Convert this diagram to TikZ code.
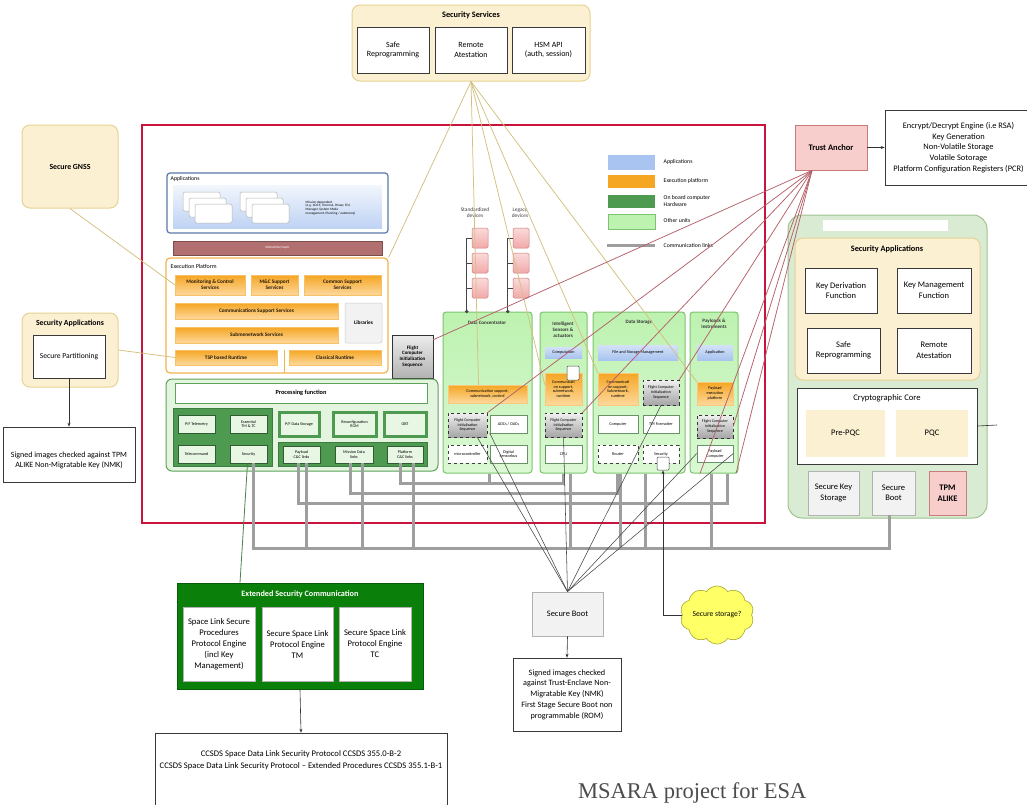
\documentclass[tikz,border=0pt]{standalone}
\usepackage{fontspec}
\setmainfont{Carlito}
\newfontfamily\serifx{Liberation Serif}
\usetikzlibrary{shapes.symbols,arrows.meta,calc}
\definecolor{frameRed}{HTML}{C8143C}
\definecolor{ssFill}{HTML}{FCF0D2}
\definecolor{ssDraw}{HTML}{E6D293}
\definecolor{tanLine}{HTML}{D4C080}
\definecolor{redLine}{HTML}{B5606A}
\definecolor{appBlue}{HTML}{A9C4F0}
\definecolor{appBorder}{HTML}{5A78A8}
\definecolor{orTop}{HTML}{F5A623}
\definecolor{orBot}{HTML}{FDD89C}
\definecolor{epBorder}{HTML}{F2B34B}
\definecolor{ilayer}{HTML}{B16F6F}
\definecolor{dkGreen}{HTML}{4E9A51}
\definecolor{ltGreen}{HTML}{BDF2B0}
\definecolor{unitBorder}{HTML}{7CC46C}
\definecolor{pfFill}{HTML}{E4F5DF}
\definecolor{pfBorder}{HTML}{5EA25A}
\definecolor{pfLight}{HTML}{E8F6E4}
\definecolor{commGray}{HTML}{9E9E9E}
\definecolor{rgFill}{HTML}{D9EBD3}
\definecolor{rgDraw}{HTML}{9CC48F}
\definecolor{taFill}{HTML}{F8CECC}
\definecolor{taDraw}{HTML}{C97B79}
\definecolor{escGreen}{HTML}{0A800A}
\definecolor{cloudY}{HTML}{FFFF66}
\definecolor{cloudD}{HTML}{A6A62E}
\definecolor{lgGray}{HTML}{F2F2F2}
\definecolor{pinkTop}{HTML}{FADADA}
\definecolor{pinkBot}{HTML}{F2A9A9}
\newcommand\fz[2]{\fontsize{#1}{#2}\selectfont}
\newcommand\bx[7]{\node[#2, minimum width={(#5)-(#3)}, minimum height={(#6)-(#4)}] (#1) at ({((#3)+(#5))/2},{((#4)+(#6))/2}) {#7};}
\tikzset{
  every node/.style={inner sep=0.5pt, align=center},
  ybox/.style={fill=ssFill, draw=ssDraw, line width=1pt, rounded corners=8pt},
  wbox/.style={fill=white, draw=gray!45!black, line width=0.9pt, font=\fz{8}{9.5}},
  wbox2/.style={fill=white, draw=gray!45!black, line width=0.8pt, font=\fz{8.5}{10.5}},
  wbox3/.style={fill=white, draw=gray!60, line width=0.6pt, font=\fz{8.6}{11}},
  tabox/.style={fill=taFill, draw=taDraw, line width=0.8pt},
  lgbox/.style={fill=lgGray, draw=gray!60, line width=0.8pt, font=\fz{8.5}{10.5}},
  yfill/.style={fill=ssFill, draw=none, font=\fz{8.5}{10}},
  unit/.style={top color=ltGreen, bottom color=ltGreen!55!white, draw=unitBorder, line width=1pt, rounded corners=3pt},
  utitle/.style={font=\bfseries\fz{5}{5.8}, text=black!80},
  obox/.style={top color=orTop, bottom color=orBot, draw=orTop!60, line width=0.3pt, font=\fz{4.2}{4.8}},
  obox2/.style={top color=orTop, bottom color=orBot, draw=orTop!70, line width=0.3pt, font=\bfseries\fz{5.3}{6}, text=black!80!brown},
  gbox/.style={top color=gray!12, bottom color=gray!70, draw=gray!40!black, dashed, line width=0.4pt, font=\fz{4}{4.6}},
  gbox2/.style={top color=gray!15, bottom color=gray!60, draw=gray!40!black, line width=0.6pt, font=\bfseries\fz{5}{5.8}},
  bbox/.style={top color=appBlue!50, bottom color=appBlue, draw=none, font=\fz{4.2}{4.8}},
  whbox/.style={fill=white, draw=green!30!black!60, line width=0.5pt, font=\fz{4.2}{4.8}},
  dwbox/.style={fill=white, draw=gray!50!black, dashed, line width=0.5pt, font=\fz{4.2}{4.8}},
  whsq/.style={fill=white, draw=black!70, line width=0.5pt, rounded corners=1pt},
  pfi/.style={fill=pfLight, draw=dkGreen!60!black, line width=0.4pt, font=\fz{4.1}{4.7}},
  pfk/.style={fill=pfLight, draw=dkGreen, line width=3pt, font=\fz{4.1}{4.7}},
  card/.style={fill=white, draw=gray!60, line width=0.5pt, rounded corners=1.5pt},
  pinkbox/.style={top color=pinkTop, bottom color=pinkBot, draw=taDraw, line width=0.5pt, rounded corners=1.5pt},
  lgt/.style={anchor=west, font=\fz{5.8}{6.5}, align=left},
  tanline/.style={draw=tanLine, line width=0.75pt},
  redline/.style={draw=redLine, line width=0.75pt},
  bootline/.style={draw=gray!55!black, line width=0.55pt},
  comm/.style={draw=commGray, line width=3pt},
  brk/.style={draw=gray!55!black, line width=0.8pt},
  arr/.style={draw=black!80, line width=0.6pt, -{Stealth[length=4pt,width=3pt]}},
}
\begin{document}
\begin{tikzpicture}[x=1pt,y=-1pt]
\useasboundingbox (0,0) rectangle (1027,804);
\fill[white] (0,0) rectangle (1027,804);

% ---------- Security Services (top)
\bx{ss}{ybox}{352}{5}{590}{81}{}
\node[font=\bfseries\fz{8.3}{9}] (ssT) at (471,15) {Security Services};
\bx{ssSafe}{wbox}{357}{27}{429}{73}{Safe\\Reprogramming}
\bx{ssRem}{wbox}{435}{27}{507}{73}{Remote\\Atestation}
\bx{ssHsm}{wbox}{512}{27}{585}{73}{HSM API\\(auth, session)}

% ---------- main frame
\bx{frame}{draw=frameRed, line width=1.4pt}{142}{125}{765}{523}{}

% ---------- left side
\bx{gnss}{ybox, font=\bfseries\fz{7.8}{9}}{22}{125}{118}{208}{Secure GNSS}
\bx{secAppL}{ybox}{22}{313}{118}{387}{}
\node[font=\bfseries\fz{7.8}{9}] (secAppLT) at (70,323) {Security Applications};
\bx{secPart}{wbox, font=\fz{7.6}{9}}{33}{335}{105}{378}{Secure Partitioning}
\bx{signedA}{wbox2, font=\fz{8}{10}, line width=0.6pt}{3}{427}{135}{482}{\\[7pt]Signed images checked against TPM\\ALIKE Non-Migratable Key (NMK)}

% ---------- Applications
\bx{app}{draw=appBorder, line width=1.2pt, rounded corners=3pt, fill=white}{167}{173}{388}{233}{}
\node[anchor=west, font=\fz{5.8}{6.5}] (appT) at (170,179) {Applications};
\bx{appIn}{top color=appBlue!15, bottom color=appBlue!75, draw=none}{173}{185}{382}{228}{}
\bx{cardA1}{card}{183}{192}{220}{211}{}
\bx{cardA2}{card}{189}{198}{226}{217}{}
\bx{cardA3}{card}{195}{204}{232}{223}{}
\bx{cardB1}{card}{240}{192}{277}{211}{}
\bx{cardB2}{card}{246}{198}{283}{217}{}
\bx{cardB3}{card}{252}{204}{289}{223}{}
\node[anchor=west, font=\fz{3.4}{3.9}, align=left] (appTxt) at (305,208) {Mission dependent\\(e.g. AOCS, Thermal, Power, FDI,\\Manager, System Mode\\management, Planning / autonomy)};
\bx{il}{fill=ilayer, draw=ilayer!70!black, line width=0.6pt, font=\fz{3.6}{4}, text=white}{173}{241}{382}{255}{Interaction layer}

% ---------- Execution platform
\bx{ep}{draw=epBorder, line width=1.2pt, rounded corners=4pt, fill=white}{166}{258}{388}{373}{}
\node[anchor=west, font=\fz{6}{7}] (epT) at (170,266) {Execution Platform};
\bx{epMC}{obox2}{175}{275}{245}{295}{Monitoring \& Control\\Services}
\bx{epMCS}{obox2}{251}{275}{298}{295}{M\&C Support\\Services}
\bx{epCS}{obox2}{304}{275}{381}{295}{Common Support\\Services}
\bx{epComm}{obox2}{175}{303}{338}{319}{Communications Support Services}
\bx{epSub}{obox2}{175}{327}{338}{343}{Submenetwork Services}
\bx{epLib}{fill=gray!10, draw=gray!40, line width=0.5pt, rounded corners=2pt, font=\bfseries\fz{5.3}{6}}{345}{303}{382}{343}{Libraries}
\bx{epTSP}{obox2}{175}{350}{277}{365}{TSP based Runtime}
\bx{epCR}{obox2}{289}{350}{381}{365}{Classical Runtime}
\coordinate (epDivT) at (284,350);
\coordinate (epDivB) at (284,373);
\draw[draw=epBorder, line width=0.8pt] (epDivT) -- (epDivB);

\bx{fcisA}{gbox2}{392}{335}{433}{378}{Flight\\Computer\\Initialization\\Sequence}

% ---------- Processing function
\bx{pf}{draw=pfBorder, fill=pfFill, rounded corners=6pt, line width=1pt}{166}{379}{438}{471}{}
\bx{pfBar}{fill=white, draw=pfBorder, line width=1pt, font=\bfseries\fz{6.3}{7}}{175}{383}{427}{403}{Processing function}
\bx{pfL}{fill=dkGreen, draw=dkGreen!80!black, line width=0.5pt}{173}{408}{272}{466}{}
\bx{pfTel}{pfi}{178}{415}{215}{433}{P/F Telemetry}
\bx{pfEss}{pfi}{230}{415}{267}{433}{Essential\\TM \& TC}
\bx{pfTc}{pfi}{178}{445}{215}{463}{Telecommand}
\bx{pfSec}{pfi}{230}{445}{267}{463}{Security}
\bx{pfDs}{pfk}{279}{412}{319}{436}{P/F Data Storage}
\bx{pfRc}{pfk}{333}{412}{376}{436}{Reconfiguration\\RGM}
\bx{pfObt}{pfk}{384}{412}{426}{436}{OBT}
\bx{pfR}{fill=dkGreen, draw=dkGreen!80!black, line width=0.5pt}{278}{442}{427}{466}{}
\bx{pfPay}{pfi}{283}{446}{320}{463}{Payload\\C\&C links}
\bx{pfMis}{pfi}{335}{446}{373}{463}{Mission Data\\links}
\bx{pfPlat}{pfi}{387}{446}{423}{463}{Platform\\C\&C links}

% ---------- devices
\node[font=\fz{5.4}{6.2}, text=black!75] (stdT) at (475,213) {Standardized\\devices};
\node[font=\fz{5.4}{6.2}, text=black!75] (legT) at (520,213) {Legacy\\devices};
\bx{sd1}{pinkbox}{472}{228}{488}{248}{}
\bx{sd2}{pinkbox}{472}{253}{488}{273}{}
\bx{sd3}{pinkbox}{472}{278}{488}{298}{}
\bx{ld1}{pinkbox}{513}{228}{529}{248}{}
\bx{ld2}{pinkbox}{513}{253}{529}{273}{}
\bx{ld3}{pinkbox}{513}{278}{529}{298}{}

% ---------- units
\bx{dc}{unit}{443}{312}{532}{473}{}
\node[utitle] (dcT) at (487,323) {Data Concentrator};
\bx{dcComm}{obox}{448}{385}{527}{403}{Communication support,\\subnetwork, control}
\bx{dcFcis}{gbox}{448}{413}{487}{437}{Flight Computer\\Initialization\\Sequence}
\bx{dcAdc}{whbox}{490}{415}{527}{433}{ADCs / DACs}
\bx{dcMc}{dwbox}{448}{445}{487}{463}{microcontroller}
\bx{dcDs}{whbox}{490}{445}{527}{463}{Digital\\Sensorbus}

\bx{is}{unit}{540}{312}{587}{473}{}
\node[utitle] (isT) at (563,330) {Intelligent\\Sensors \&\\actuators};
\bx{isComp}{bbox}{545}{347}{582}{358}{Computation}
\bx{isComm}{obox}{545}{373}{582}{405}{Communicati\\on support,\\subnetwork,\\runtime}
\bx{isSq}{whsq}{567}{366}{579}{380}{}
\bx{isFcis}{gbox}{545}{413}{582}{437}{Flight Computer\\Initialization\\Sequence}
\bx{isCpu}{whbox}{545}{445}{582}{463}{CPU}

\bx{ds}{unit}{593}{312}{685}{473}{}
\node[utitle] (dsT) at (639,322) {Data Storage};
\bx{dsFile}{bbox}{598}{345}{678}{360}{File and Storage Management}
\bx{dsComm}{obox}{598}{373}{638}{405}{Communicati\\on support,\\Subnetwork,\\runtime}
\bx{dsFcis}{gbox}{643}{380}{679}{405}{Flight Computer\\Initialization\\Sequence}
\bx{dsComp}{whbox}{598}{415}{638}{433}{Computer}
\bx{dsTm}{whbox}{643}{415}{679}{433}{TM Formatter}
\bx{dsRouter}{dwbox}{598}{445}{638}{463}{Router}
\bx{dsSec}{dwbox}{643}{445}{679}{463}{Security}
\bx{dsSq}{whsq}{657}{457}{669}{470}{}

\bx{pl}{unit}{690}{312}{738}{473}{}
\node[utitle] (plT) at (714,324) {Payloads \&\\Instruments};
\bx{plApp}{bbox}{697}{345}{733}{360}{Application}
\bx{plExec}{obox}{697}{382}{733}{405}{Payload\\execution\\platform}
\bx{plFcis}{gbox}{697}{415}{733}{438}{Flight Computer\\Initialization\\Sequence}
\bx{plComp}{whbox}{697}{445}{733}{462}{Payload\\Computer}

% ---------- legend
\bx{lgA}{fill=appBlue, draw=none}{608}{155}{655}{170}{}
\node[lgt] (lgAT) at (663,162) {Applications};
\bx{lgE}{fill=orTop, draw=none}{608}{175}{655}{188}{}
\node[lgt] (lgET) at (663,181) {Execution platform};
\bx{lgO}{fill=dkGreen, draw=none}{608}{195}{655}{208}{}
\node[lgt] (lgOT) at (663,201) {On board computer\\Hardware};
\bx{lgU}{fill=ltGreen, draw=unitBorder, line width=1pt}{608}{214}{655}{229}{}
\node[lgt] (lgUT) at (663,221) {Other units};
\coordinate (lgL1) at (607,245);
\coordinate (lgL2) at (655,245);
\draw[comm] (lgL1) -- (lgL2);
\node[lgt] (lgLT) at (663,245) {Communication links};

% ---------- Trust anchor
\bx{ta}{tabox, font=\bfseries\fz{8.5}{10}}{795}{125}{867}{170}{Trust Anchor}
\bx{taInfo}{wbox2, font=\fz{8.4}{10.8}, line width=0.6pt}{885}{110}{1032}{185}{Encrypt/Decrypt Engine (i.e RSA)\\Key Generation\\Non-Volatile Storage\\Volatile Sotorage\\Platform Configuration Registers (PCR)}

% ---------- right green block
\bx{rg}{draw=rgDraw, fill=rgFill, rounded corners=14pt, line width=1pt}{788}{215}{987}{518}{}
\bx{rgBar}{fill=white, draw=none}{823}{220}{948}{231}{}
\bx{rgSA}{ybox}{795}{238}{980}{380}{}
\node[font=\bfseries\fz{8.3}{9.5}] (rgSAT) at (887,249) {Security Applications};
\bx{kdf}{wbox2}{805}{268}{877}{313}{Key Derivation\\Function}
\bx{kmf}{wbox2}{897}{268}{971}{313}{Key Management\\Function}
\bx{rsr}{wbox2}{807}{328}{880}{373}{Safe\\Reprogramming}
\bx{rra}{wbox2}{897}{328}{971}{373}{Remote\\Atestation}
\bx{cc}{wbox2}{797}{388}{977}{464}{}
\node[font=\fz{8.6}{10}] (ccT) at (887,398) {Cryptographic Core};
\bx{prepqc}{yfill}{806}{410}{885}{457}{Pre-PQC}
\bx{pqc}{yfill}{896}{410}{968}{457}{PQC}
\bx{rSKS}{lgbox}{808}{471}{859}{515}{Secure Key\\Storage}
\bx{rSBoot}{lgbox}{872}{471}{915}{515}{Secure\\Boot}
\bx{rTPM}{tabox, font=\bfseries\fz{8.5}{10.5}}{929}{471}{966}{515}{TPM\\ALIKE}
\coordinate (ccEnd) at (997,425);
\draw[draw=gray!40!black, line width=0.6pt] (cc.east) -- (ccEnd);

% ---------- bottom
\bx{esc}{fill=escGreen, draw=escGreen!70!black, line width=0.8pt}{177}{583}{423}{689}{}
\node[font=\bfseries\fz{8.2}{9}, text=white] (escT) at (300,594) {Extended Security Communication};
\bx{esc1}{wbox3}{183}{607}{255}{681}{Space Link Secure\\Procedures\\Protocol Engine\\(incl  Key\\Management)}
\bx{esc2}{wbox3}{262}{607}{333}{681}{Secure Space Link\\Protocol Engine\\TM}
\bx{esc3}{wbox3}{339}{607}{411}{681}{Secure Space Link\\Protocol Engine\\TC}
\bx{ccsds}{wbox2, font=\fz{8.6}{12}, line width=0.6pt}{155}{733}{447}{812}{CCSDS Space Data Link Security Protocol CCSDS 355.0-B-2\\CCSDS Space Data Link Security Protocol -- Extended Procedures CCSDS 355.1-B-1\\[14pt]}

\bx{sboot}{lgbox, font=\fz{8.4}{10}}{532}{592}{603}{636}{Secure Boot}
\bx{signedB}{wbox2, font=\fz{8.2}{10.8}, line width=0.6pt}{513}{658}{621}{731}{Signed images checked\\against Trust-Enclave Non-\\Migratable Key (NMK)\\First Stage Secure Boot non\\programmable (ROM)}
\node[cloud, cloud puffs=10, cloud puff arc=110, aspect=1.4, draw=cloudD, fill=cloudY, line width=0.6pt, minimum width=66pt, minimum height=52pt, inner sep=0pt, font=\fz{7.6}{8.5}] (cloud) at (717,615) {Secure storage?};

\node[font=\serifx\fontsize{22.5}{26}\selectfont, text=black!70, anchor=base west, inner sep=0pt] (msara) at (578,798) {MSARA project for ESA};

% ---------- device brackets
\draw[brk] (sd1.west) -- ++(-5,0) |- (sd3.west);
\draw[brk] (sd2.west) -- ++(-5,0);
\draw[brk] ([xshift=-5pt]sd3.west) -- ([xshift=-5pt]sd3.west |- dc.north);
\fill[gray!55!black] ([xshift=-5pt]sd3.west |- dc.north) circle (1.8);
\draw[brk] (ld1.west) -- ++(-5,0) |- (ld3.west);
\draw[brk] (ld2.west) -- ++(-5,0);
\draw[brk] ([xshift=-5pt]ld3.west) -- ([xshift=-5pt]ld3.west |- dc.north);
\fill[gray!55!black] ([xshift=-5pt]ld3.west |- dc.north) circle (1.8);

% ---------- communication links
\draw[comm] ([xshift=5pt]pfSec.south) -- ++(0,85) -| ([xshift=-4pt]rSBoot.south);
\draw[comm] ([xshift=-3pt]pfPay.south) -- ++(0,40) -| ([xshift=13pt]pl.south);
\draw[comm] ([xshift=5pt]pfPay.south) -- ++(0,85);
\draw[comm] ([xshift=-4pt]pfMis.south) -- ++(0,30) -| ([xshift=-22pt]ds.south);
\draw[comm] ([xshift=8pt]pfMis.south) -- ++(0,85);
\draw[comm] ([xshift=-5pt]pfPlat.south) -- ++(0,20) -| (is.south);
\draw[comm] ([xshift=8pt]pfPlat.south) -- ++(0,85);
\draw[comm] ([xshift=2pt]dc.south) -- ++(0,10);
\draw[comm] ([xshift=7pt]is.south) -- ++(0,75);
\draw[comm] ([xshift=-19pt]ds.south) -- ++(0,75);
\draw[comm] ([xshift=6pt]ds.south) -- ++(0,75);
\draw[comm] ([xshift=-3pt]pl.south) -- ++(0,75);

% ---------- tan lines (security services)
\draw[tanline] (ss.south) -- (ep.north east);
\draw[tanline] (ss.south) -- ([xshift=-9pt]dcComm.north);
\draw[tanline] (ss.south) -- ([yshift=4pt]isComm.west);
\draw[tanline] (ss.south) -- (dsComm.north west);
\draw[tanline] (ss.south) -- (plExec.north west);
\draw[tanline] (gnss.south) -- (epMC.west);
\draw[tanline] (secAppL.east) -- (epTSP.west);

% ---------- red lines (trust anchor)
\draw[redline] ([xshift=-19pt]ta.south) -- ([yshift=-5pt]fcisA.north east);
\draw[redline] ([xshift=-19pt]ta.south) -- (dcFcis.north east);
\draw[redline] ([xshift=-19pt]ta.south) -- (isFcis.north east);
\draw[redline] ([xshift=-19pt]ta.south) -- (dsFcis.north east);
\draw[redline] ([xshift=-19pt]ta.south) -- (plFcis.east);
\draw[redline] ([xshift=-19pt]ta.south) -- ([xshift=-14pt]pl.south);
\draw[redline] ([xshift=-19pt]ta.south) -- ([xshift=22pt]pl.south);

% ---------- secure boot lines
\draw[bootline] (sboot.north) -- ([xshift=-10pt]dcFcis.south east);
\draw[bootline] (sboot.north) -- (dcAdc.south west);
\draw[bootline] (sboot.north) -- (isFcis.south);
\draw[bootline] (sboot.north) -- (dsFcis.south);
\draw[bootline] (sboot.north) -- (plComp.west);
\draw[bootline] (sboot.north) -- (plComp.east);

% ---------- arrows
\draw[arr] (secPart.south) -- (signedA.north);
\draw[arr] (ta.east) -- (taInfo.west);
\draw[arr] (sboot.south) -- (signedB.north);
\draw[arr] (esc.south) -- (ccsds.north);
\draw[arr, draw=green!30!black!70, line width=0.8pt] ([xshift=-60pt]esc.north) -- ([xshift=-1pt]pfSec.south);
\draw[arr] (cloud.west) -| (dsSq.south);
\end{tikzpicture}
\end{document}
